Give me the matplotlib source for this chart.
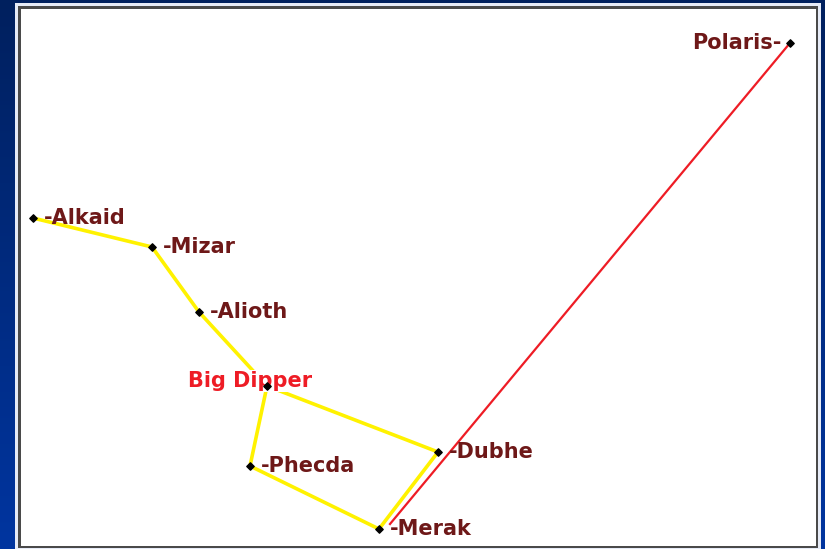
import numpy as np
import matplotlib
matplotlib.use("Agg")
import matplotlib.pyplot as plt
from matplotlib.patches import Rectangle


# ---------------- star positions (chart units) ----------------
stars = ["Alkaid", "Mizar", "Alioth", "Megrez", "Phecda", "Merak", "Dubhe", "Polaris"]
star_x = [12, 131, 178, 246, 229, 358, 417, 769]
star_y = [328, 299, 234, 160, 80, 17, 94, 503]

# dipper outline, drawn in this order
dipper_path = ["Alkaid", "Mizar", "Alioth", "Megrez", "Phecda", "Merak", "Dubhe", "Megrez"]

# pointer line towards Polaris
pointer_x = [369, 769]
pointer_y = [22, 503]

title_text = "Big Dipper"
title_pos = (229, 165)

label_color = "#6e1818"


W, H = 825, 549
fig = plt.figure(figsize=(W / 100, H / 100), dpi=100)

# blue gradient behind everything
bg = fig.add_axes([0, 0, 1, 1], zorder=-10)
grad = np.linspace(0, 1, 256).reshape(-1, 1)
cmap = matplotlib.colors.LinearSegmentedColormap.from_list("bg", ["#00205e", "#0035a0"])
bg.imshow(grad, aspect="auto", cmap=cmap, extent=[0, 1, 0, 1])
bg.axis("off")

# white panel with a light outer rim and a dark inner border
fig.patches.append(Rectangle((15 / W, 0), (821 - 15) / W, (H - 3) / H,
                             transform=fig.transFigure, facecolor="#e6ebf7", edgecolor="none", zorder=-5))
fig.patches.append(Rectangle((18 / W, 1 / H), (818 - 18) / W, (H - 6 - 1) / H,
                             transform=fig.transFigure, facecolor="#4a4a4a", edgecolor="none", zorder=-4))

ax = fig.add_axes([21 / W, 3 / H, (816 - 21) / W, (546 - 9) / H])
ax.set_facecolor("white")
ax.set_xlim(0, 795)
ax.set_ylim(0, 537)
ax.set_xticks([])
ax.set_yticks([])
for s in ax.spines.values():
    s.set_visible(False)

pos = {n: (x, y) for n, x, y in zip(stars, star_x, star_y)}

# lines
px = [pos[n][0] for n in dipper_path]
py = [pos[n][1] for n in dipper_path]
ax.plot(px, py, color="#fff200", lw=2.6, solid_capstyle="round", zorder=2)
ax.plot(pointer_x, pointer_y, color="#ee1c25", lw=1.6, zorder=3)

# title covers the lines around Megrez
ax.text(title_pos[0], title_pos[1], title_text, color="#ee1c25", fontsize=15, fontweight="bold",
        ha="center", va="center", zorder=4,
        bbox=dict(boxstyle="square,pad=0.05", facecolor="white", edgecolor="none"))

# star markers
ax.scatter(star_x, star_y, marker="D", s=14, color="black", zorder=5)

# labels
for n, x, y in zip(stars, star_x, star_y):
    if n == "Megrez":
        continue
    if n == "Polaris":
        ax.annotate(n + "-", (x, y), xytext=(-6, 0), textcoords="offset points",
                    ha="right", va="center", fontsize=15, fontweight="bold", color=label_color)
    else:
        ax.annotate("-" + n, (x, y), xytext=(8, 0), textcoords="offset points",
                    ha="left", va="center", fontsize=15, fontweight="bold", color=label_color)

fig.savefig("out.png", dpi=100)
